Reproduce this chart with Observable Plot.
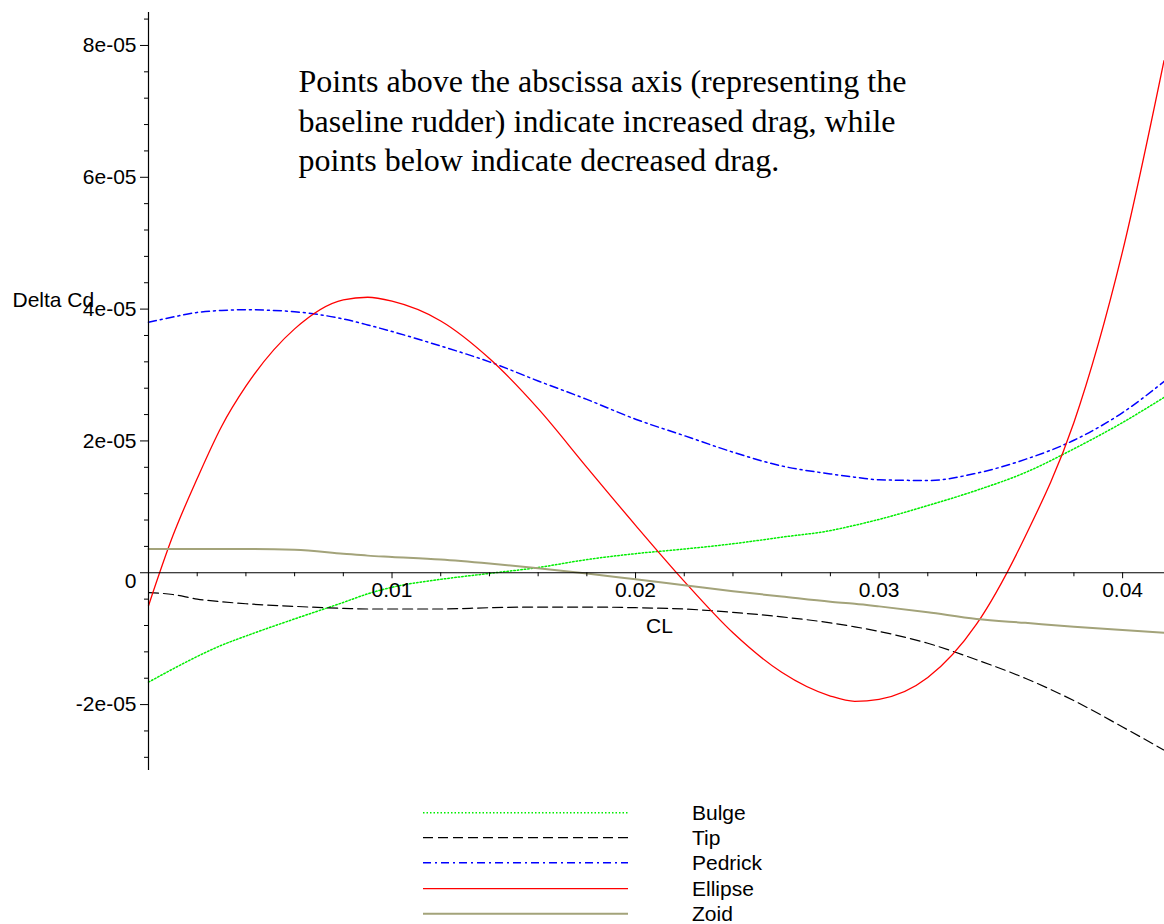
<!DOCTYPE html>
<html><head><meta charset="utf-8">
<script src="https://cdn.jsdelivr.net/npm/d3@7"></script>
<script src="https://cdn.jsdelivr.net/npm/@observablehq/plot@0.6"></script>
<style>
body{margin:0;background:#fff;font-family:"Liberation Sans",Arial,sans-serif;}
#legend{position:relative;width:1164px;padding-top:9.5px;}
.row{position:relative;height:25.4px;}
.row svg{position:absolute;left:423px;top:0;}
.row span{position:absolute;left:692px;top:0;line-height:25.4px;font-size:21px;color:#000;}
</style></head><body>
<div id="chart"></div><div id="legend"></div>
<script>
// CL sample points
const cl = [0, 0.001, 0.002, 0.003, 0.004, 0.006, 0.008, 0.009, 0.010, 0.012, 0.014, 0.016, 0.018, 0.020, 0.022, 0.024, 0.026, 0.028, 0.029, 0.030, 0.032, 0.034, 0.036, 0.038, 0.040, 0.0417];
// Delta Cd values (x 1e-5)
const bulge   = [-1.66,-1.46,-1.27,-1.10,-0.96,-0.70,-0.45,-0.32,-0.22,-0.10,-0.01,0.08,0.20,0.29,0.36,0.44,0.54,0.64,0.72,0.81,1.02,1.25,1.52,1.88,2.28,2.66];
const tip     = [-0.30,-0.33,-0.40,-0.44,-0.47,-0.51,-0.54,-0.55,-0.55,-0.55,-0.53,-0.52,-0.52,-0.53,-0.55,-0.60,-0.67,-0.76,-0.82,-0.89,-1.07,-1.32,-1.60,-1.94,-2.34,-2.69];
const pedrick = [3.80,3.88,3.95,3.98,3.99,3.96,3.85,3.76,3.66,3.44,3.20,2.91,2.63,2.33,2.08,1.83,1.62,1.50,1.45,1.41,1.40,1.51,1.72,2.01,2.43,2.90];
const ellipse = [-0.50,0.56,1.43,2.22,2.83,3.70,4.14,4.18,4.12,3.82,3.25,2.49,1.60,0.72,-0.13,-0.91,-1.51,-1.87,-1.95,-1.92,-1.59,-0.78,0.55,2.28,4.88,7.77];
const zoid    = [0.36,0.36,0.36,0.36,0.36,0.35,0.29,0.26,0.24,0.20,0.14,0.07,-0.01,-0.10,-0.19,-0.28,-0.36,-0.44,-0.47,-0.51,-0.60,-0.70,-0.76,-0.82,-0.87,-0.91];
const unit = 1e-5;

const seriesNames = ["Bulge", "Tip", "Pedrick", "Ellipse", "Zoid"];
const seriesValues = [bulge, tip, pedrick, ellipse, zoid];
const seriesColors = ["#00ee00", "#000000", "#0000ff", "#ff0000", "#a3a37a"];
const seriesDash = ["1.5,2", "10,5", "8,4,2,4", null, null];
const seriesWidth = [1.5, 1.2, 1.5, 1.3, 2];

// ticks
const xMajor = [0.01, 0.02, 0.03, 0.04];
const xLabels = ["0.01", "0.02", "0.03", "0.04"];
const xMinor = [0.002, 0.004, 0.006, 0.008, 0.012, 0.014, 0.016, 0.018, 0.022, 0.024, 0.026, 0.028, 0.032, 0.034, 0.036, 0.038];
const yMajor = [-2e-5, 0, 2e-5, 4e-5, 6e-5, 8e-5];
const yLabels = ["-2e-05", "0", "2e-05", "4e-05", "6e-05", "8e-05"];
const yMinor = [-2.8e-5, -2.4e-5, -1.6e-5, -1.2e-5, -0.8e-5, -0.4e-5, 0.4e-5, 0.8e-5, 1.2e-5, 1.6e-5, 2.4e-5, 2.8e-5, 3.2e-5, 3.6e-5, 4.4e-5, 4.8e-5, 5.2e-5, 5.6e-5, 6.4e-5, 6.8e-5, 7.2e-5, 7.6e-5, 8.4e-5];

const annotation = "Points above the abscissa axis (representing the\nbaseline rudder) indicate increased drag, while\npoints below indicate decreased drag.";

const W = 1164, H = 790, mt = 12, mb = 20, ml = 148, mr = 0;
const xDomain = [0, 0.04172];
const yDomain = [-3e-5, 8.5e-5];

const yScale = Plot.scale({y: {domain: yDomain, range: [H - mb, mt]}});
const shift = (H - mb) - yScale.apply(0);

const xLabelOf = new Map(xMajor.map((v, i) => [v, xLabels[i]]));
const yLabelOf = new Map(yMajor.map((v, i) => [v, yLabels[i]]));

const lineMarks = seriesNames.map((name, k) => {
  const rows = cl.map((c, i) => ({cl: c, v: seriesValues[k][i] * unit}));
  return Plot.line(rows, {x: "cl", y: "v", stroke: seriesColors[k], strokeWidth: seriesWidth[k],
    strokeDasharray: seriesDash[k] ?? undefined, curve: "monotone-x"});
});

const serif = "'Liberation Serif','Times New Roman',serif";

const chart = Plot.plot({
  width: W, height: H,
  marginTop: mt, marginBottom: mb, marginLeft: ml, marginRight: mr,
  x: {domain: xDomain, label: null},
  y: {domain: yDomain, label: null},
  style: {fontFamily: "'Liberation Sans',Arial,sans-serif", fontSize: "21px", color: "#000", background: "#fff", overflow: "visible"},
  marks: [
    ...lineMarks,
    Plot.ruleY([0], {stroke: "#000", strokeWidth: 1.2}),
    Plot.ruleX([0], {stroke: "#000", strokeWidth: 1.2}),
    Plot.axisY(yMajor, {anchor: "left", tickSize: 8, tickPadding: 4, tickFormat: d => d === 0 ? "" : yLabelOf.get(d), label: null}),
    Plot.axisY([0], {anchor: "left", tickSize: 0, tickPadding: 12, dy: 9, tickFormat: d => yLabelOf.get(d), label: null}),
    Plot.axisY(yMinor, {anchor: "left", tickSize: 4, tickFormat: () => "", label: null}),
    Plot.axisX(xMajor, {anchor: "bottom", dy: -shift, tickSize: 6, tickPadding: 3, tickFormat: d => xLabelOf.get(d), label: null}),
    Plot.axisX(xMinor, {anchor: "bottom", dy: -shift, tickSize: 4, tickFormat: () => "", label: null}),
    Plot.text(["Delta Cd"], {text: d => d, frameAnchor: "top-left", dx: 12 - ml, dy: 292 - mt, textAnchor: "start", fill: "#000"}),
    Plot.text(["CL"], {text: d => d, frameAnchor: "top-left", dx: 659 - ml, dy: 618 - mt, textAnchor: "middle", fill: "#000"}),
    Plot.text([annotation], {text: d => d, frameAnchor: "top-left", dx: 298 - ml, dy: 64 - mt, textAnchor: "start", lineAnchor: "top",
      fontSize: 32, fontFamily: serif, lineHeight: 1.23, fill: "#000"})
  ]
});
document.getElementById("chart").appendChild(chart);

// legend
const legend = document.getElementById("legend");
seriesNames.forEach((name, k) => {
  const row = document.createElement("div");
  row.className = "row";
  const svgNS = "http://www.w3.org/2000/svg";
  const svg = document.createElementNS(svgNS, "svg");
  svg.setAttribute("width", 206); svg.setAttribute("height", 25.4);
  const ln = document.createElementNS(svgNS, "line");
  ln.setAttribute("x1", 0); ln.setAttribute("x2", 205);
  ln.setAttribute("y1", 12.7); ln.setAttribute("y2", 12.7);
  ln.setAttribute("stroke", seriesColors[k]);
  ln.setAttribute("stroke-width", seriesWidth[k]);
  if (seriesDash[k]) ln.setAttribute("stroke-dasharray", seriesDash[k]);
  svg.appendChild(ln);
  const sp = document.createElement("span");
  sp.textContent = name;
  row.appendChild(svg); row.appendChild(sp);
  legend.appendChild(row);
});
</script>
</body></html>
